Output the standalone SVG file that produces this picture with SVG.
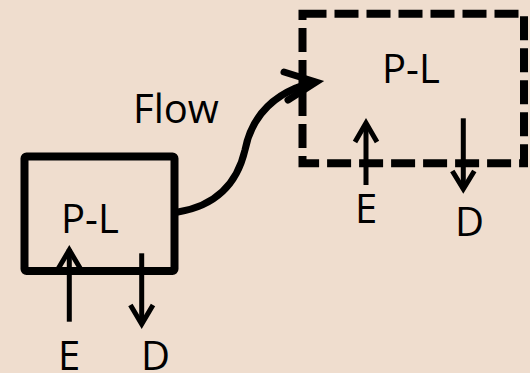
<svg xmlns="http://www.w3.org/2000/svg" width="530" height="373" viewBox="0 0 530 373">
<style>
.lbl{font-family:"Open Sans","Liberation Sans",sans-serif;font-size:40px;fill:#000}
.box{fill:none;stroke:#000;stroke-width:8;stroke-linejoin:round}
.dash{fill:none;stroke:#000;stroke-width:8;stroke-dasharray:24 8;stroke-linejoin:miter}
.arr{fill:none;stroke:#000;stroke-width:5;stroke-linejoin:miter}
.flow{fill:none;stroke:#000;stroke-width:7;stroke-linecap:round;stroke-linejoin:miter}
</style>
<rect width="530" height="373" fill="#EFDDCE"/>
<g id="box-left">
<rect class="box" x="24.5" y="156.5" width="150" height="114.5" rx="2"/>
<text class="lbl" x="61" y="232.7">P-L</text>
</g>
<g id="box-right">
<path class="dash" d="M302.5,13.7 H524 V163.3 H302.5 Z"/>
<text class="lbl" x="382" y="82.7">P-L</text>
</g>
<g id="labels">
<text class="lbl" x="133" y="122.7">Flow</text>
<text class="lbl" x="58" y="370">E</text>
<text class="lbl" x="141" y="370">D</text>
<text class="lbl" x="355" y="223.3">E</text>
<text class="lbl" x="455" y="236">D</text>
</g>
<g id="connectors">
<path class="arr" d="M69.3,321.7 V249"/>
<polyline class="arr" points="58,269 69.3,250 80.6,269"/>
<path class="arr" d="M141.7,253.3 V324"/>
<polyline class="arr" points="130.4,305 141.7,324 153,305"/>
<path class="arr" d="M366,185 V123"/>
<polyline class="arr" points="355,142 366,123 377,142"/>
<path class="arr" d="M463.3,118.3 V189"/>
<polyline class="arr" points="452.3,171 463.3,189 474.3,171"/>
<path class="flow" d="M178,212 C220,205 238,180 245,150 C252,115 275,92 314,82"/>
<polyline class="flow" points="284,72 316,82 288,100"/>
</g>
</svg>
